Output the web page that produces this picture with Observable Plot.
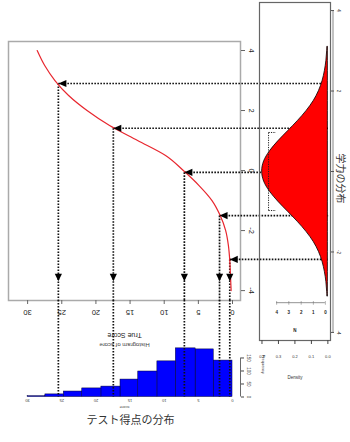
<!DOCTYPE html>
<html><head><meta charset="utf-8">
<script src="https://cdn.jsdelivr.net/npm/d3@7"></script>
<script src="https://cdn.jsdelivr.net/npm/@observablehq/plot@0.6"></script>
<style>
html,body{margin:0;padding:0;background:#fff;}
#wrap{position:relative;width:350px;height:442px;overflow:hidden;}
#wrap svg{position:absolute;left:0;top:0;background:transparent;}
</style></head><body><div id="wrap"></div>
<script>
// ---- data ----
const thetaGrid  = [-4, -3.5, -3, -2.5, -2, -1.5, -1, -0.5, 0, 0.5, 1, 1.5, 2, 2.5, 3, 3.5, 4];
const scoreCurve = [0.2, 0.3, 0.4, 0.6, 1.0, 1.8, 3.0, 4.9, 7.2, 9.8, 13.9, 18.0, 21.3, 24.0, 26.0, 27.5, 28.6];
const arrowTheta = [2.9, 1.41, -0.06, -1.5, -2.96];
const arrowScore = [25.5, 17.45, 7.05, 1.9, 0.4];
const arrowTipTheta = -3.69;
const leaderEndScore = -14;
const scoreTicks = [0, 5, 10, 15, 20, 25, 30];
const thetaTicks = [-4, -2, 0, 2, 4];
const scoreDomain = [32.8, -1.17];
const thetaDomain = [-4.33, 4.3];

const densTheta = [-3.1, -3, -2.75, -2.5, -2.25, -2, -1.75, -1.5, -1.25, -1, -0.75, -0.5, -0.25, 0, 0.25, 0.5, 0.75, 1, 1.25, 1.5, 1.75, 2, 2.25, 2.5, 2.75, 3, 3.1];
const densValue = [0.003, 0.004, 0.009, 0.018, 0.032, 0.054, 0.086, 0.130, 0.183, 0.242, 0.301, 0.352, 0.387, 0.399, 0.387, 0.352, 0.301, 0.242, 0.183, 0.130, 0.086, 0.054, 0.032, 0.018, 0.009, 0.004, 0.003];
const densDomain = [0.415, -0.016];
const densThetaDomain = [-4.2, 4.2];
const densTicks = [0, 0.1, 0.2, 0.3, 0.4];
const bracketDens = [0.36, 0.315];
const bracketTheta = [-0.97, 0.97];
const innerAxisTheta = -3.26;
const innerTicks = [0.015, 0.088, 0.162, 0.237, 0.311];
const innerLabels = ["0", "1", "2", "3", "4"];

const binLo = [0, 2.75, 5.4, 8.3, 11, 13.8, 16.4, 19.2, 22, 24.7, 27.4];
const binHi = [2.75, 5.4, 8.3, 11, 13.8, 16.4, 19.2, 22, 24.7, 27.4, 30];
const binCount = [140, 183, 187, 137, 98, 67, 40, 33, 21, 10, 3];
const freqTicks = [0, 50, 100, 150];
const freqDomain = [0, 371];

// ---- styles ----
const dotted = {stroke: "#111", strokeWidth: 1.7, strokeDasharray: "1.6 1.4"};
const font = "Liberation Sans, Arial, sans-serif";
const cjk = "Noto Sans CJK JP, sans-serif";
const triLeft = {draw(ctx) { ctx.moveTo(0, 0); ctx.lineTo(8, -3.6); ctx.lineTo(8, 3.6); ctx.closePath(); }};
const triDown = {draw(ctx) { ctx.moveTo(0, 0); ctx.lineTo(-3.6, -7.5); ctx.lineTo(3.6, -7.5); ctx.closePath(); }};
const idx = arrowTheta.map((_, i) => i);

const wrap = document.getElementById("wrap");

// ---- main plot: true score vs ability ----
const main = Plot.plot({
  width: 350, height: 442,
  marginLeft: 8, marginRight: 110, marginTop: 41, marginBottom: 142,
  style: {fontFamily: font, color: "#222", background: "transparent"},
  x: {domain: scoreDomain},
  y: {domain: thetaDomain},
  marks: [
    Plot.frame({stroke: "#aaa", strokeWidth: 1.5}),
    Plot.link(idx, {x1: i => arrowScore[i], x2: () => leaderEndScore, y1: i => arrowTheta[i], y2: i => arrowTheta[i], ...dotted}),
    Plot.link(idx, {x1: i => arrowScore[i], x2: i => arrowScore[i], y1: i => arrowTheta[i], y2: () => thetaDomain[0], ...dotted}),
    Plot.line(thetaGrid, {x: scoreCurve, y: thetaGrid, stroke: "#e8262e", strokeWidth: 1.2, curve: "monotone-y"}),
    Plot.dot(idx, {x: i => arrowScore[i], y: i => arrowTheta[i], symbol: triLeft, fill: "#000", stroke: "none"}),
    Plot.dot(idx, {x: i => arrowScore[i], y: () => arrowTipTheta, symbol: triDown, fill: "#000", stroke: "none"}),
    Plot.axisX({anchor: "bottom", ticks: scoreTicks, tickSize: 4, tickRotate: 180, tickPadding: 5,
      fontSize: 7.5, textAnchor: "middle", lineAnchor: "bottom", label: null, stroke: "#666"}),
    Plot.axisY({anchor: "right", ticks: thetaTicks, tickSize: 4, tickRotate: 90, tickPadding: 4,
      fontSize: 7.5, textAnchor: "middle", lineAnchor: "bottom", tickFormat: d => String(d), label: null, stroke: "#666"}),
    Plot.text(["True Score"], {frameAnchor: "bottom", dy: 32, rotate: 180, fontSize: 7, fill: "#222"}),
    Plot.text(["Histogram of score"], {frameAnchor: "bottom", dy: 42, rotate: 180, fontSize: 6, fill: "#444"})
  ]
});
wrap.appendChild(main);

// ---- ability distribution panel ----
const dens = Plot.plot({
  width: 350, height: 442,
  marginLeft: 259, marginRight: 20, marginTop: 2, marginBottom: 102,
  style: {fontFamily: font, color: "#333", background: "transparent"},
  x: {domain: densDomain},
  y: {domain: densThetaDomain},
  marks: [
    Plot.areaX(densTheta, {y: densTheta, x: densValue, fill: "#ff0000", stroke: "#000", strokeWidth: 0.8, curve: "monotone-y"}),
    Plot.frame({stroke: "#666", strokeWidth: 1.2}),
    Plot.ruleX([densDomain[1]], {y1: thetaTicks[0], y2: thetaTicks[4], dx: 2.5, stroke: "#999", strokeWidth: 1.2}),
    Plot.link([0], {x1: bracketDens[0], x2: bracketDens[0], y1: bracketTheta[0], y2: bracketTheta[1], stroke: "#222", strokeWidth: 1, strokeDasharray: "1.2 1.2"}),
    Plot.link(bracketTheta, {x1: bracketDens[0], x2: bracketDens[1], y1: d => d, y2: d => d, stroke: "#222", strokeWidth: 1, strokeDasharray: "1.2 1.2"}),
    Plot.axisY({anchor: "right", ticks: thetaTicks, tickSize: 3, tickRotate: 90, tickPadding: 3,
      fontSize: 4.5, textAnchor: "middle", lineAnchor: "bottom", tickFormat: d => String(d), label: null, stroke: "#555"}),
    Plot.ruleY([innerAxisTheta], {x1: innerTicks[0], x2: innerTicks[4], stroke: "#666", strokeWidth: 0.7}),
    Plot.link(innerTicks, {x1: d => d, x2: d => d, y1: innerAxisTheta, y2: innerAxisTheta, dy: 0, stroke: "#666", strokeWidth: 0.7, markerEnd: "tick-y"}),
    Plot.text(innerTicks, {x: d => d, y: innerAxisTheta, text: (d, i) => innerLabels[i], dy: 10, fontSize: 4.5, fontWeight: "bold", fill: "#222"}),
    Plot.text(["N"], {x: densTicks[2], y: densThetaDomain[0], dy: -10, fontSize: 4.5, fontWeight: "bold", fill: "#222"}),
    Plot.axisX({anchor: "bottom", ticks: densTicks, tickSize: 4, tickPadding: 11, fontSize: 4,
      tickFormat: d => d.toFixed(1), label: null, stroke: "#444"}),
    Plot.text(["Density"], {frameAnchor: "bottom", x: densTicks[2], dy: 38, fontSize: 4.5, fill: "#333"}),
    Plot.text(["学力の分布"], {frameAnchor: "right", dx: 10, dy: 32, rotate: 90, fontSize: 10, fontFamily: cjk, fill: "#333"})
  ]
});
wrap.appendChild(dens);

// ---- test score histogram ----
const hist = Plot.plot({
  width: 350, height: 442,
  marginLeft: 8, marginRight: 110, marginTop: 300, marginBottom: 45.5,
  style: {fontFamily: font, color: "#333", background: "transparent"},
  x: {domain: scoreDomain},
  y: {domain: freqDomain},
  marks: [
    Plot.rect(binCount, {x1: binLo, x2: binHi, y1: 0, y2: binCount, fill: "#0000ff", stroke: "#000033", strokeWidth: 0.5}),
    Plot.ruleX(arrowScore, dotted),
    Plot.ruleX([scoreDomain[1]], {y1: freqTicks[0], y2: freqTicks[3], stroke: "#444", strokeWidth: 0.8}),
    Plot.axisY({anchor: "right", ticks: freqTicks, tickSize: 3, tickRotate: 90, tickPadding: 3,
      fontSize: 4.5, textAnchor: "middle", lineAnchor: "bottom", label: null, stroke: "#444"}),
    Plot.axisX({anchor: "bottom", ticks: scoreTicks, tickSize: 0, tickRotate: 180, tickPadding: 1.5,
      fontSize: 4, textAnchor: "middle", lineAnchor: "bottom", label: null}),
    Plot.text(["score"], {frameAnchor: "bottom", dy: 8.5, rotate: 180, fontSize: 4, fill: "#444"}),
    Plot.text(["Frequency"], {frameAnchor: "right", dx: 23, dy: 25, rotate: 90, fontSize: 4, fill: "#333"}),
    Plot.text(["テスト得点の分布"], {frameAnchor: "bottom", dx: 6, dy: 26.5, fontSize: 11, fontFamily: cjk, fill: "#333"})
  ]
});
wrap.appendChild(hist);
</script>
</body></html>
